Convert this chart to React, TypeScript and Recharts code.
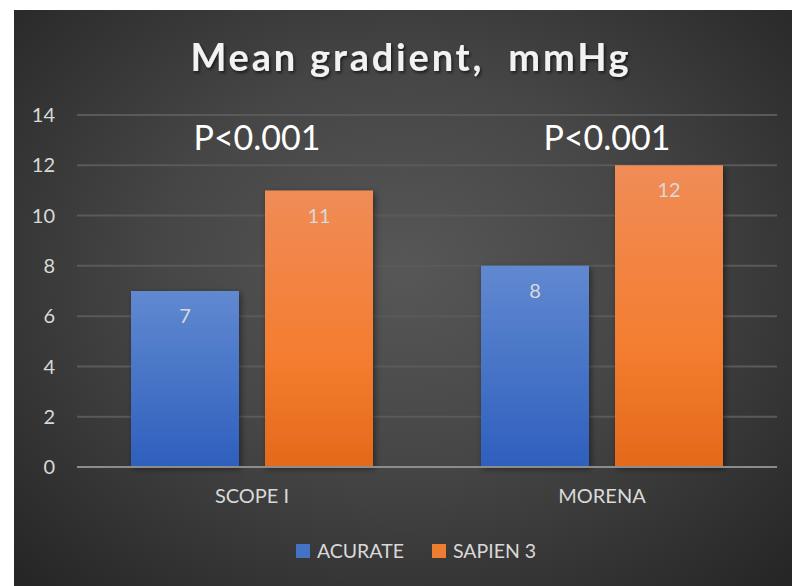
import React from 'react';
import { BarChart, Bar, XAxis, YAxis, CartesianGrid, LabelList, ReferenceDot } from 'recharts';

const categories = ['SCOPE I', 'MORENA'];
const acurate = [7, 8];
const sapien3 = [11, 12];
const pValues = ['P<0.001', 'P<0.001'];
const yTicks = [0, 2, 4, 6, 8, 10, 12, 14];
const seriesNames = ['ACURATE', 'SAPIEN 3'];
const seriesColors = ['#4472c4', '#ed7d31'];

const data = categories.map((c, i) => ({ name: c, acurate: acurate[i], sapien3: sapien3[i] }));

const FONT = 'Lato, "Open Sans", sans-serif';
const TXT = '#d9d9d9';

const LegendBlock = () => (
  <div
    style={{
      position: 'absolute',
      left: 0,
      top: 529,
      width: 778,
      display: 'flex',
      justifyContent: 'center',
      alignItems: 'center',
      fontFamily: FONT,
      fontSize: 19.5,
      color: TXT,
      paddingLeft: 26,
      boxSizing: 'border-box',
    }}
  >
    {seriesNames.map((n, i) => (
      <React.Fragment key={n}>
        <span style={{ display: 'inline-block', width: 14, height: 14, background: seriesColors[i], marginRight: 7 }} />
        <span style={{ marginRight: i === 0 ? 28 : 0 }}>{n}</span>
      </React.Fragment>
    ))}
  </div>
);

export default function App() {
  return (
    <div style={{ position: 'absolute', left: 0, top: 0, width: 792, height: 586, background: '#fff' }}>
      <div
        style={{
          position: 'absolute',
          left: 14,
          top: 10,
          width: 778,
          height: 576,
          background: 'radial-gradient(ellipse 70% 75% at 50% 45%, #575757 0%, #464646 45%, #262626 100%)',
        }}
      >
        <BarChart
          width={778}
          height={576}
          data={data}
          margin={{ top: 105, right: 15, bottom: 89, left: 0 }}
          barCategoryGap={54}
          barGap={26}
        >
          <defs>
            <linearGradient id="gBlue" x1="0" y1="0" x2="0" y2="1">
              <stop offset="0%" stopColor="#6189d1" />
              <stop offset="100%" stopColor="#2e5fbd" />
            </linearGradient>
            <linearGradient id="gOrange" x1="0" y1="0" x2="0" y2="1">
              <stop offset="0%" stopColor="#f08c57" />
              <stop offset="60%" stopColor="#f47d30" />
              <stop offset="100%" stopColor="#e4691b" />
            </linearGradient>
            <filter id="barShadow" x="-20%" y="-20%" width="140%" height="140%">
              <feDropShadow dx="2" dy="2" stdDeviation="3" floodColor="#000" floodOpacity="0.45" />
            </filter>
            <filter id="titleShadow" x="-10%" y="-30%" width="120%" height="160%">
              <feDropShadow dx="1.5" dy="2" stdDeviation="1.5" floodColor="#000" floodOpacity="0.6" />
            </filter>
          </defs>
          <text
            x={397}
            y={46}
            textAnchor="middle"
            dominantBaseline="central"
            fill="#f2f2f2"
            style={{ fontFamily: FONT, fontSize: 38, fontWeight: 700, letterSpacing: 2.8, whiteSpace: 'pre' }}
            filter="url(#titleShadow)"
          >
            {'Mean gradient,  mmHg'}
          </text>
          <CartesianGrid vertical={false} stroke="#5a5a5a" strokeWidth={2} />
          <XAxis
            dataKey="name"
            tickLine={false}
            axisLine={{ stroke: '#8c8c8c', strokeWidth: 2 }}
            tickSize={0}
            tickMargin={22}
            tick={{ fill: TXT, fontSize: 20, fontFamily: FONT }}
          />
          <YAxis
            domain={[0, 14]}
            ticks={yTicks}
            width={63}
            axisLine={false}
            tickLine={false}
            tickSize={0}
            tickMargin={22}
            tick={{ fill: TXT, fontSize: 20, fontFamily: FONT }}
            interval={0}
          />
          <Bar dataKey="acurate" name={seriesNames[0]} fill="url(#gBlue)" isAnimationActive={false} filter="url(#barShadow)">
            <LabelList dataKey="acurate" position="insideTop" offset={18} fill={TXT} fontSize={20} fontFamily={FONT} />
          </Bar>
          <Bar dataKey="sapien3" name={seriesNames[1]} fill="url(#gOrange)" isAnimationActive={false} filter="url(#barShadow)">
            <LabelList dataKey="sapien3" position="insideTop" offset={18} fill={TXT} fontSize={20} fontFamily={FONT} />
          </Bar>
          {categories.map((c, i) => (
            <ReferenceDot
              key={c}
              x={c}
              y={13.1}
              r={0}
              fill="none"
              stroke="none"
              label={{ value: pValues[i], position: 'center', dx: 5, fill: '#ffffff', fontSize: 34, fontFamily: FONT }}
            />
          ))}
        </BarChart>
        <LegendBlock />
      </div>
    </div>
  );
}
